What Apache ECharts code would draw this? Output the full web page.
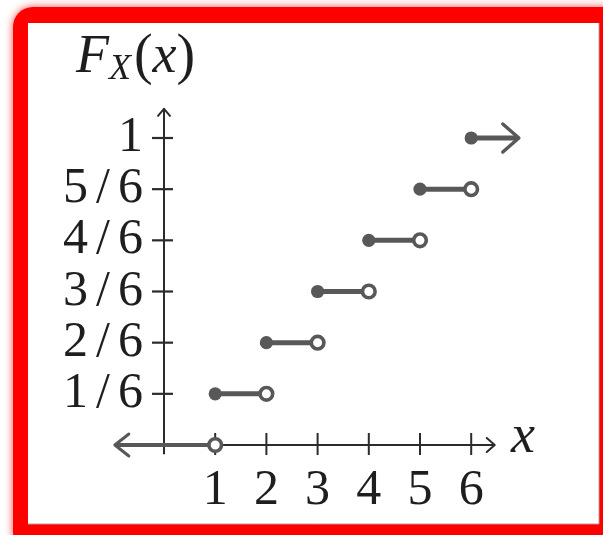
<!DOCTYPE html>
<html>
<head>
<meta charset="utf-8">
<script src="https://cdn.jsdelivr.net/npm/echarts@6/dist/echarts.min.js"></script>
<style>
  html, body { margin: 0; padding: 0; background: #ffffff; }
  #chart { width: 603px; height: 535px; }
</style>
</head>
<body>
<div id="chart"></div>
<script>
// CDF of a fair die: F_X(x) jumps by 1/6 at each face value
const stepStarts = [1, 2, 3, 4, 5, 6];
const cdfValues = [1 / 6, 2 / 6, 3 / 6, 4 / 6, 5 / 6, 1];
const xTickValues = [1, 2, 3, 4, 5, 6];
const xTickLabels = ['1', '2', '3', '4', '5', '6'];
const yTickValues = [1 / 6, 2 / 6, 3 / 6, 4 / 6, 5 / 6, 1];
const yTickLabels = ['1/6', '2/6', '3/6', '4/6', '5/6', '1'];

// extents of the drawn axis lines and the open-ended last step (data units)
const xAxisSpan = [-0.96, 6.46];
const yAxisSpan = [-0.03, 1.095];
const lastStepTail = 0.93;

const SERIF = "'Liberation Serif', 'DejaVu Serif', serif";
const AXIS_COLOR = '#2b2b2b';
const MARK_COLOR = '#585858';
const TEXT_COLOR = '#1e1e1e';
const LABEL_SIZE = 50;

function chevron(tip, dir, depth, half, width, color) {
  // open arrow head pointing in direction dir ('right' | 'left' | 'up')
  let pts;
  if (dir === 'right') pts = [[tip[0] - depth, tip[1] - half], tip, [tip[0] - depth, tip[1] + half]];
  else if (dir === 'left') pts = [[tip[0] + depth, tip[1] - half], tip, [tip[0] + depth, tip[1] + half]];
  else pts = [[tip[0] - half, tip[1] + depth], tip, [tip[0] + half, tip[1] + depth]];
  return {
    type: 'polyline',
    shape: { points: pts },
    style: { stroke: color, lineWidth: width, fill: null, lineCap: 'round', lineJoin: 'round' }
  };
}

function renderAxes(params, api) {
  const children = [];
  const y0 = api.coord([0, 0])[1];
  const x0 = api.coord([0, 0])[0];
  const xl = api.coord([xAxisSpan[0], 0])[0];
  const xr = api.coord([xAxisSpan[1], 0])[0];
  const firstJump = api.coord([stepStarts[0], 0])[0];
  const yb = api.coord([0, yAxisSpan[0]])[1];
  const yt = api.coord([0, yAxisSpan[1]])[1];

  // horizontal axis (thin, to the right of the first jump)
  children.push({ type: 'line', shape: { x1: firstJump, y1: y0, x2: xr, y2: y0 },
    style: { stroke: AXIS_COLOR, lineWidth: 2.2 } });
  children.push(chevron([xr, y0], 'right', 8, 7, 2, AXIS_COLOR));
  // vertical axis
  children.push({ type: 'line', shape: { x1: x0, y1: yb, x2: x0, y2: yt },
    style: { stroke: AXIS_COLOR, lineWidth: 2 } });
  children.push(chevron([x0, yt], 'up', 7, 6, 2, AXIS_COLOR));

  // crossing tick marks
  xTickValues.forEach(function (v) {
    const p = api.coord([v, 0]);
    children.push({ type: 'line', shape: { x1: p[0], y1: p[1] - 12, x2: p[0], y2: p[1] + 10 },
      style: { stroke: AXIS_COLOR, lineWidth: 2 } });
  });
  yTickValues.forEach(function (v) {
    const p = api.coord([0, v]);
    children.push({ type: 'line', shape: { x1: p[0] - 12, y1: p[1], x2: p[0] + 9, y2: p[1] },
      style: { stroke: AXIS_COLOR, lineWidth: 2.2 } });
  });

  // F = 0 for x below the first jump
  children.push({ type: 'line', shape: { x1: xl + 1, y1: y0, x2: firstJump, y2: y0 },
    style: { stroke: MARK_COLOR, lineWidth: 4 } });
  children.push(chevron([xl, y0], 'left', 14, 11, 3, MARK_COLOR));
  children.push({ type: 'circle', shape: { cx: firstJump, cy: y0, r: 6.3 },
    style: { fill: '#ffffff', stroke: MARK_COLOR, lineWidth: 3.6 } });

  return { type: 'group', children: children };
}

function renderStep(params, api) {
  const i = params.dataIndex;
  const last = i === stepStarts.length - 1;
  const start = api.coord([api.value(0), api.value(2)]);
  const end = api.coord([api.value(1), api.value(2)]);
  const children = [];
  children.push({ type: 'line', shape: { x1: start[0], y1: start[1], x2: last ? end[0] - 1 : end[0], y2: end[1] },
    style: { stroke: MARK_COLOR, lineWidth: 5 } });
  if (last) {
    children.push(chevron(end, 'right', 16, 14, 3.5, MARK_COLOR));
  } else {
    children.push({ type: 'circle', shape: { cx: end[0], cy: end[1], r: 6.3 },
      style: { fill: '#ffffff', stroke: MARK_COLOR, lineWidth: 3.6 } });
  }
  children.push({ type: 'circle', shape: { cx: start[0], cy: start[1], r: 6.6 },
    style: { fill: MARK_COLOR } });
  return { type: 'group', children: children };
}

const stepData = stepStarts.map(function (s, i) {
  const end = i < stepStarts.length - 1 ? stepStarts[i + 1] : s + lastStepTail;
  return [s, end, cdfValues[i]];
});

function nearestIndex(list, v) {
  let idx = 0, best = Infinity;
  list.forEach(function (t, i) { if (Math.abs(t - v) < best) { best = Math.abs(t - v); idx = i; } });
  return idx;
}

const chart = echarts.init(document.getElementById('chart'), null, { renderer: 'canvas' });

chart.setOption({
  backgroundColor: '#ffffff',
  animation: false,
  graphic: [
    { type: 'rect', z: -10, silent: true,
      shape: { x: 13, y: 7, width: 610, height: 545, r: 20 },
      style: { fill: '#ff0000', shadowBlur: 8, shadowColor: 'rgba(255,0,0,0.7)' } },
    { type: 'rect', z: -9, silent: true,
      shape: { x: 28, y: 23, width: 571, height: 501 },
      style: { fill: '#ffffff' } },
    { type: 'polyline', z: -8, silent: true,
      shape: { points: [[599, 23], [599, 524], [28, 524]] },
      style: { stroke: '#b89a9a', lineWidth: 1, fill: null } },
    { type: 'text', silent: true, x: 76, y: 13,
      style: {
        text: '{F|F}{X|X}{p|(}{v|x}{p|)}',
        rich: {
          F: { fontFamily: SERIF, fontStyle: 'italic', fontSize: 54, fill: TEXT_COLOR, height: 66 },
          X: { fontFamily: SERIF, fontStyle: 'italic', fontSize: 36, fill: TEXT_COLOR, padding: [24, 3, 0, 0], height: 66 },
          p: { fontFamily: SERIF, fontSize: 56, fill: TEXT_COLOR, height: 66 },
          v: { fontFamily: SERIF, fontStyle: 'italic', fontSize: 54, fill: TEXT_COLOR, height: 66 }
        }
      } },
    { type: 'text', silent: true, x: 511, y: 411,
      style: { text: 'x', fontFamily: SERIF, fontStyle: 'italic', fontSize: 54, fill: TEXT_COLOR } }
  ],
  // grid origin sits on the axis crossing; the arrows reach past it
  grid: { left: 164, right: 29.4, top: 15.2, bottom: 90, containLabel: false, outerBoundsMode: 'none' },
  xAxis: {
    type: 'value', min: 0, max: 8,
    axisLine: { show: false },
    axisTick: { show: false },
    splitLine: { show: false },
    axisLabel: {
      customValues: xTickValues,
      showMinLabel: true, showMaxLabel: true, hideOverlap: false,
      margin: 21,
      fontFamily: SERIF, fontSize: LABEL_SIZE, color: TEXT_COLOR,
      formatter: function (v) { return xTickLabels[nearestIndex(xTickValues, v)]; }
    }
  },
  yAxis: {
    type: 'value', min: 0, max: 1.4,
    axisLine: { show: false },
    axisTick: { show: false },
    splitLine: { show: false },
    axisLabel: {
      customValues: yTickValues,
      showMinLabel: true, showMaxLabel: true, hideOverlap: false,
      margin: 21,
      fontFamily: SERIF, fontSize: LABEL_SIZE, color: TEXT_COLOR,
      formatter: function (v) {
        const lab = yTickLabels[nearestIndex(yTickValues, v)];
        return lab.indexOf('/') >= 0 ? lab.replace('/', '{s|/}') : lab;
      },
      rich: { s: { fontFamily: SERIF, fontSize: LABEL_SIZE, color: TEXT_COLOR, padding: [0, 8, 0, 8] } }
    }
  },
  series: [
    { type: 'custom', renderItem: renderAxes, data: [[0, 0]], silent: true, z: 2, clip: false },
    { type: 'custom', renderItem: renderStep, data: stepData, silent: true, z: 3, clip: false,
      encode: { x: [0, 1], y: 2 } }
  ]
});
</script>
</body>
</html>
